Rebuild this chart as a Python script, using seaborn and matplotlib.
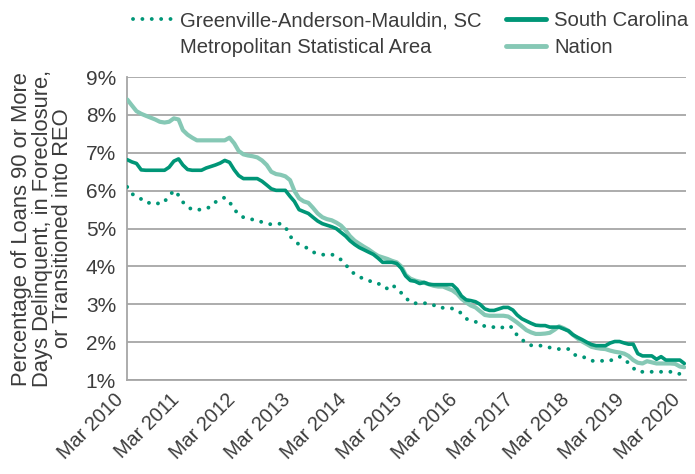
import matplotlib
matplotlib.use("Agg")
import matplotlib.pyplot as plt
from matplotlib.lines import Line2D
import seaborn as sns
import pandas as pd
import numpy as np

# ---- data (monthly, Mar 2010 .. Mar 2020), percent ----
dates = pd.date_range("2010-03-01", "2020-03-01", freq="MS")

nation = [
    8.41, 8.25, 8.10, 8.03, 7.98, 7.93, 7.88, 7.82, 7.80, 7.82, 7.91, 7.88,
    7.60, 7.48, 7.40, 7.33, 7.33, 7.33, 7.33, 7.33, 7.33, 7.33, 7.40, 7.25,
    7.05, 6.96, 6.93, 6.91, 6.88, 6.80, 6.68, 6.50, 6.44, 6.42, 6.38, 6.28,
    6.00, 5.80, 5.72, 5.68, 5.55, 5.40, 5.30, 5.25, 5.22, 5.16, 5.08, 4.95,
    4.80, 4.68, 4.60, 4.52, 4.45, 4.36, 4.28, 4.24, 4.20, 4.15, 4.11, 4.00,
    3.78, 3.68, 3.63, 3.60, 3.57, 3.53, 3.49, 3.47, 3.47, 3.42, 3.37, 3.28,
    3.15, 3.05, 2.97, 2.92, 2.82, 2.72, 2.70, 2.70, 2.70, 2.70, 2.68, 2.60,
    2.52, 2.42, 2.32, 2.26, 2.22, 2.22, 2.23, 2.25, 2.33, 2.42, 2.37, 2.30,
    2.20, 2.10, 2.02, 1.95, 1.88, 1.85, 1.83, 1.82, 1.78, 1.75, 1.73, 1.70,
    1.64, 1.53, 1.46, 1.44, 1.50, 1.47, 1.44, 1.44, 1.44, 1.44, 1.43, 1.36, 1.34,
]

south_carolina = [
    6.82, 6.76, 6.72, 6.55, 6.54, 6.54, 6.54, 6.54, 6.54, 6.62, 6.78, 6.84,
    6.68, 6.56, 6.54, 6.54, 6.54, 6.60, 6.64, 6.68, 6.73, 6.80, 6.75, 6.55,
    6.40, 6.32, 6.32, 6.32, 6.32, 6.25, 6.15, 6.05, 6.01, 6.01, 6.01, 5.85,
    5.72, 5.50, 5.45, 5.40, 5.30, 5.20, 5.13, 5.09, 5.05, 5.00, 4.90, 4.80,
    4.68, 4.58, 4.50, 4.44, 4.38, 4.32, 4.22, 4.11, 4.11, 4.11, 4.08, 3.95,
    3.75, 3.63, 3.61, 3.55, 3.58, 3.53, 3.52, 3.52, 3.52, 3.52, 3.52, 3.40,
    3.22, 3.12, 3.10, 3.07, 3.00, 2.88, 2.84, 2.84, 2.88, 2.92, 2.92, 2.85,
    2.72, 2.62, 2.56, 2.50, 2.45, 2.44, 2.44, 2.40, 2.40, 2.40, 2.35, 2.30,
    2.20, 2.13, 2.07, 2.00, 1.94, 1.91, 1.91, 1.91, 1.98, 2.02, 2.02, 1.98,
    1.95, 1.95, 1.70, 1.64, 1.64, 1.64, 1.55, 1.62, 1.53, 1.53, 1.53, 1.53, 1.44,
]

greenville = [
    6.10, 5.92, 5.84, 5.78, 5.68, 5.68, 5.70, 5.64, 5.72, 5.85, 6.01, 5.88,
    5.70, 5.58, 5.50, 5.50, 5.50, 5.53, 5.58, 5.70, 5.78, 5.82, 5.70, 5.52,
    5.36, 5.30, 5.26, 5.24, 5.22, 5.17, 5.14, 5.11, 5.12, 5.13, 5.05, 4.80,
    4.68, 4.58, 4.52, 4.48, 4.38, 4.34, 4.31, 4.32, 4.32, 4.26, 4.18, 4.05,
    3.90, 3.80, 3.72, 3.68, 3.63, 3.58, 3.56, 3.45, 3.42, 3.52, 3.42, 3.30,
    3.18, 3.05, 3.03, 3.03, 3.03, 3.03, 2.98, 2.91, 2.91, 2.91, 2.89, 2.85,
    2.76, 2.62, 2.58, 2.54, 2.50, 2.42, 2.40, 2.40, 2.36, 2.40, 2.44, 2.38,
    2.18, 2.08, 1.96, 1.92, 1.91, 1.91, 1.90, 1.86, 1.84, 1.82, 1.83, 1.82,
    1.70, 1.63, 1.62, 1.58, 1.51, 1.51, 1.51, 1.51, 1.51, 1.58, 1.62, 1.56,
    1.45, 1.32, 1.22, 1.22, 1.22, 1.22, 1.22, 1.22, 1.22, 1.22, 1.22, 1.16, 1.10,
]

tick_years = list(range(2010, 2021))
tick_labels = [f"Mar {y}" for y in tick_years]
y_ticks = list(range(1, 10))
y_labels = [f"{v}%" for v in y_ticks]

label_gam = "Greenville-Anderson-Mauldin, SC"
label_gam2 = "Metropolitan Statistical Area"
label_sc = "South Carolina"
label_nat = "Nation"
ylabel = "Percentage of Loans 90 or More\nDays Delinquent, in Foreclosure,\nor Transitioned into REO"

DARK = "#009677"
LIGHT = "#86c8b5"
GRID = "#a6a6a6"
TEXT = "#3c3c3c"

sns.set_theme(style="white")
plt.rcParams["font.family"] = ["Liberation Sans", "DejaVu Sans"]
plt.rcParams["text.color"] = TEXT

fig = plt.figure(figsize=(6.95, 4.74), dpi=100)
ax = fig.add_axes([0.183, 0.198, 0.804, 0.6394])

df = pd.DataFrame({"date": dates, "nation": nation, "sc": south_carolina, "gam": greenville})

sns.lineplot(data=df, x="date", y="nation", ax=ax, color=LIGHT, lw=3.0, zorder=3)
sns.lineplot(data=df, x="date", y="sc", ax=ax, color=DARK, lw=2.6, zorder=4)
sns.lineplot(data=df, x="date", y="gam", ax=ax, color=DARK, lw=2.8, zorder=4,
             linestyle=(0, (0.01, 2.4)), dash_capstyle="round")

ax.set_ylim(1, 9)
ax.set_xlim(pd.Timestamp("2010-03-01"), pd.Timestamp("2020-03-12"))
ax.set_yticks(y_ticks)
ax.set_yticklabels(y_labels)
ax.set_xticks([pd.Timestamp(f"{y}-03-01") for y in tick_years])
ax.set_xticklabels(tick_labels, rotation=45, ha="right", va="top")

ax.yaxis.grid(True, color=GRID, lw=1.3)
ax.xaxis.grid(False)
ax.set_axisbelow(True)
for s in ["top", "right"]:
    ax.spines[s].set_visible(False)
for s in ["left", "bottom"]:
    ax.spines[s].set_color(GRID)
    ax.spines[s].set_linewidth(1.3)

ax.tick_params(axis="both", length=0, labelcolor=TEXT)
ax.tick_params(axis="y", pad=8, labelsize=15)
ax.tick_params(axis="x", pad=7, labelsize=14.3)
ax.set_xlabel("")
ax.set_ylabel(ylabel, fontsize=15.8, color=TEXT, linespacing=0.98, labelpad=9)

handles = [
    Line2D([], [], color=DARK, lw=2.8, linestyle=(0, (0.01, 2.4)), dash_capstyle="round"),
    Line2D([], [], color="none"),
    Line2D([], [], color=DARK, lw=3.5),
    Line2D([], [], color=LIGHT, lw=3.5),
]
labels = [label_gam, label_gam2, label_sc, label_nat]
leg = fig.legend(handles, labels, ncol=2, loc="upper left",
                 bbox_to_anchor=(0.175, 1.0), frameon=False, fontsize=14.6,
                 handlelength=1.95, handletextpad=0.4, columnspacing=1.2,
                 labelspacing=0.38, borderaxespad=0.15)
for t in leg.get_texts():
    t.set_color(TEXT)

fig.savefig("out.png", dpi=100)
